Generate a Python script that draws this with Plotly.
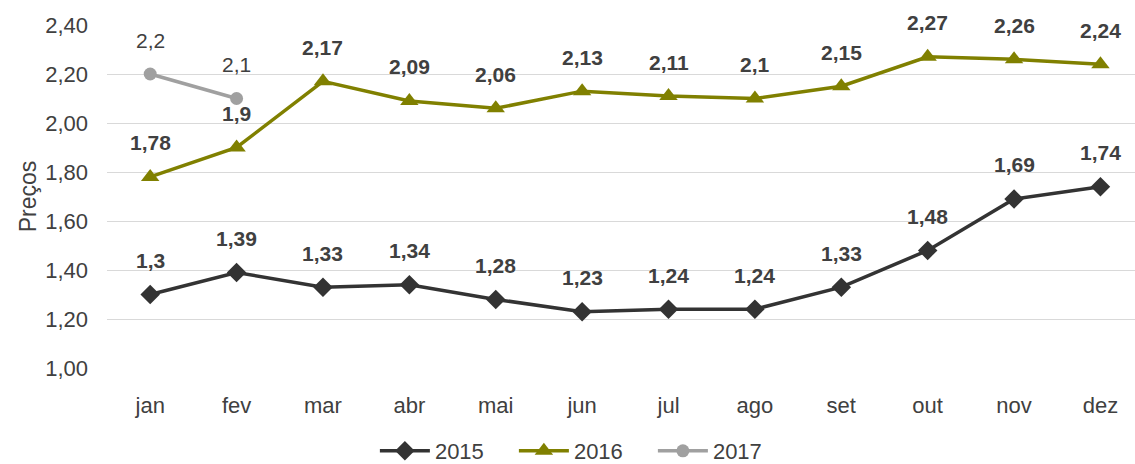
import plotly.graph_objects as go

meses = ["jan", "fev", "mar", "abr", "mai", "jun", "jul", "ago", "set", "out", "nov", "dez"]
precos_2015 = [1.30, 1.39, 1.33, 1.34, 1.28, 1.23, 1.24, 1.24, 1.33, 1.48, 1.69, 1.74]
precos_2016 = [1.78, 1.90, 2.17, 2.09, 2.06, 2.13, 2.11, 2.10, 2.15, 2.27, 2.26, 2.24]
precos_2017 = [2.20, 2.10]
y_ticks = [1.0, 1.2, 1.4, 1.6, 1.8, 2.0, 2.2, 2.4]

FONT = "Liberation Sans, Arial, sans-serif"
TXT = "#404040"
series = [
    ("2015", precos_2015, "#333333", "diamond", 15, True),
    ("2016", precos_2016, "#808000", "triangle-up", 16, True),
    ("2017", precos_2017, "#a0a0a0", "circle", 13, False),
]


def fmt(v):
    return ("%g" % v).replace(".", ",")


fig = go.Figure()
annotations = []
for name, vals, color, symbol, msize, bold in series:
    xs = meses[: len(vals)]
    fig.add_trace(go.Scatter(
        x=xs, y=vals, name=name, mode="lines+markers",
        line=dict(color=color, width=3.5),
        marker=dict(symbol=symbol, size=msize, color=color),
    ))
    for x, v in zip(xs, vals):
        txt = "<b>%s</b>" % fmt(v) if bold else fmt(v)
        annotations.append(dict(
            x=x, y=v, text=txt, showarrow=False, yshift=34,
            font=dict(family=FONT, size=21, color=TXT),
        ))

fig.update_layout(
    width=1135, height=464,
    margin=dict(l=107, r=0, t=25, b=96, autoexpand=False),
    paper_bgcolor="white", plot_bgcolor="white",
    font=dict(family=FONT, size=22, color=TXT),
    annotations=annotations,
    legend=dict(orientation="h", x=0.514, xref="container", xanchor="center",
                y=-0.242, yanchor="middle",
                font=dict(size=22, color=TXT), itemwidth=50,
                entrywidth=74, entrywidthmode="pixels", tracegroupgap=0),
    showlegend=True,
)
fig.update_xaxes(
    type="category", categoryorder="array", categoryarray=meses,
    range=[-0.5, 11.4], showgrid=False, zeroline=False, showline=False,
    ticks="", ticklabelstandoff=22, automargin=False,
    tickfont=dict(size=22, color=TXT),
)
fig.update_yaxes(
    range=[1.0, 2.4], tickvals=y_ticks,
    ticktext=[("%.2f" % t).replace(".", ",") for t in y_ticks],
    showgrid=True, gridcolor="#d9d9d9", gridwidth=1.3, zeroline=False,
    ticks="", ticklabelstandoff=18, automargin=False,
    tickfont=dict(size=22, color=TXT),
    title=dict(text="Preços", font=dict(size=23, color=TXT), standoff=2),
)

fig.write_html("out.html")
